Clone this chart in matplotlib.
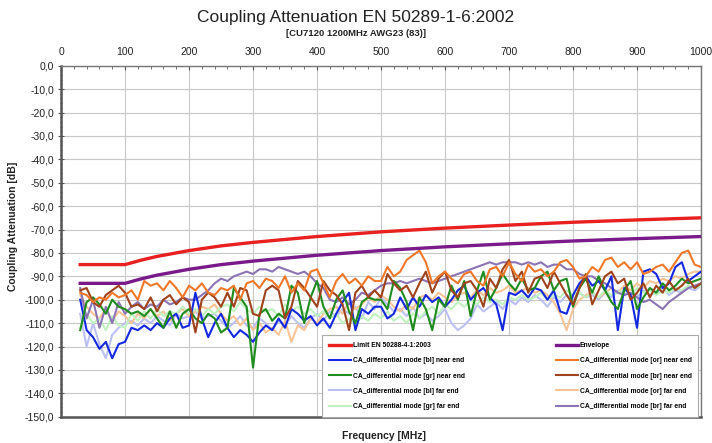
import numpy as np
import matplotlib
matplotlib.use("Agg")
import matplotlib.pyplot as plt
from matplotlib.ticker import FuncFormatter, MultipleLocator

plt.rcParams['font.family'] = ['Liberation Sans', 'DejaVu Sans']

title = "Coupling Attenuation EN 50289-1-6:2002"
subtitle = "[CU7120 1200MHz AWG23 (83)]"
xlabel = "Frequency [MHz]"
ylabel = "Coupling Attenuation [dB]"

# smooth reference curves
freq_ref = [30, 100, 125, 150, 200, 250, 300, 400, 500, 600, 700, 800, 900, 1000]
limit_vals = [-85, -85, -83.1, -81.5, -79, -77, -75.5, -73, -71, -69.4, -68.1, -66.9, -65.9, -65]
envelope_vals = [-93, -93, -91.1, -89.5, -87, -85, -83.5, -81, -79, -77.4, -76.1, -74.9, -73.9, -73]

# measured curves, 30 ... 1000 MHz, 10 MHz step
freq = np.arange(30, 1001, 10)

bl_near = [-100, -113, -116, -121, -118, -125, -119, -118, -112, -113,
           -111, -113, -110, -112, -108, -106, -112, -111, -97, -108,
           -116, -110, -106, -112, -116, -113, -115, -118, -114, -111,
           -113, -108, -112, -104, -106, -109, -107, -111, -108, -112,
           -106, -101, -97, -113, -104, -106, -103, -103, -108, -106,
           -99, -104, -99, -103, -98, -101, -99, -103, -100, -96,
           -94, -100, -97, -95, -99, -102, -113, -97, -98, -96,
           -99, -95, -96, -100, -96, -105, -106, -98, -93, -90,
           -94, -92, -96, -90, -113, -95, -98, -112, -88, -87,
           -89, -95, -93, -86, -84, -92, -90, -88]

or_near = [-97, -98, -101, -99, -100, -97, -99, -98, -96, -100,
           -92, -94, -93, -96, -92, -95, -99, -94, -96, -93,
           -97, -98, -95, -96, -94, -100, -93, -92, -95, -91,
           -92, -95, -90, -97, -93, -96, -88, -87, -93, -99,
           -92, -89, -93, -91, -94, -90, -92, -92, -86, -90,
           -88, -83, -81, -79, -84, -93, -90, -88, -91, -93,
           -89, -88, -92, -94, -87, -86, -90, -84, -89, -92,
           -85, -88, -87, -90, -88, -84, -83, -86, -91, -90,
           -86, -88, -83, -82, -86, -84, -87, -84, -89, -88,
           -86, -85, -88, -84, -80, -79, -85, -86]

gr_near = [-113, -101, -99, -102, -106, -100, -103, -104, -106, -105,
           -107, -104, -108, -112, -105, -112, -106, -104, -108, -110,
           -106, -108, -114, -112, -95, -99, -103, -129, -106, -104,
           -109, -106, -108, -94, -97, -110, -99, -92, -103, -108,
           -100, -96, -105, -110, -101, -99, -100, -100, -104, -92,
           -95, -101, -113, -99, -104, -113, -100, -103, -94, -100,
           -92, -107, -96, -88, -100, -95, -89, -93, -96, -91,
           -96, -95, -90, -88, -96, -92, -91, -103, -95, -91,
           -97, -90, -96, -101, -104, -96, -92, -104, -99, -95,
           -97, -93, -96, -94, -91, -93, -92, -91]

br_near = [-96, -95, -101, -103, -98, -96, -94, -97, -103, -102,
           -104, -99, -105, -100, -98, -102, -99, -101, -114, -100,
           -97, -99, -103, -97, -103, -95, -96, -106, -107, -96,
           -94, -96, -108, -103, -92, -95, -99, -103, -92, -96,
           -98, -102, -113, -97, -94, -99, -96, -99, -89, -93,
           -96, -94, -99, -93, -88, -97, -91, -88, -96, -99,
           -93, -92, -96, -103, -91, -95, -87, -83, -92, -88,
           -97, -91, -90, -95, -88, -93, -98, -102, -95, -89,
           -102, -96, -90, -88, -93, -91, -100, -97, -93, -99,
           -94, -97, -92, -96, -94, -91, -95, -93]

bl_far = [-106, -120, -110, -119, -125, -115, -112, -110, -109, -111,
          -108, -110, -107, -109, -111, -106, -108, -107, -105, -108,
          -107, -106, -109, -112, -110, -107, -111, -112, -108, -110,
          -113, -109, -111, -107, -110, -112, -108, -106, -109, -105,
          -107, -104, -106, -103, -108, -101, -104, -99, -102, -105,
          -104, -107, -103, -108, -106, -109, -107, -104, -110, -113,
          -111, -108, -102, -105, -103, -101, -104, -100, -102, -99,
          -101, -98, -100, -103, -99, -101, -98, -100, -97, -99,
          -98, -100, -97, -99, -96, -98, -97, -99, -96, -98,
          -97, -95, -98, -96, -97, -95, -96, -94]

or_far = [-98, -103, -106, -108, -104, -109, -105, -107, -110, -106,
          -108, -104, -107, -105, -109, -106, -104, -107, -105, -103,
          -104, -102, -106, -109, -107, -111, -108, -113, -110, -114,
          -112, -115, -109, -118, -111, -113, -108, -110, -106, -104,
          -103, -106, -101, -104, -102, -99, -101, -98, -100, -103,
          -105, -102, -104, -99, -98, -100, -97, -99, -101, -98,
          -97, -99, -96, -98, -95, -97, -96, -94, -97, -96,
          -95, -97, -96, -98, -101, -106, -113, -104, -100, -98,
          -97, -99, -97, -95, -97, -94, -96, -93, -95, -92,
          -93, -91, -92, -90, -91, -89, -88, -88]

gr_far = [-112, -106, -110, -108, -113, -107, -111, -112, -106, -109,
          -105, -108, -104, -107, -105, -106, -103, -106, -104, -107,
          -104, -106, -103, -102, -105, -101, -104, -106, -103, -105,
          -104, -107, -102, -105, -103, -106, -104, -107, -105, -108,
          -106, -110, -108, -111, -107, -109, -106, -108, -105, -109,
          -107, -110, -106, -108, -105, -103, -106, -102, -104, -101,
          -103, -100, -102, -99, -101, -100, -102, -99, -100, -98,
          -100, -99, -97, -100, -98, -99, -96, -98, -97, -99,
          -97, -99, -96, -98, -97, -96, -98, -95, -97, -96,
          -98, -96, -97, -95, -96, -94, -95, -94]

br_far = [-95, -108, -100, -112, -103, -110, -101, -106, -103, -101,
          -104, -102, -103, -100, -102, -101, -99, -100, -100, -98,
          -96, -93, -91, -92, -90, -89, -88, -89, -87, -87,
          -88, -86, -87, -88, -89, -88, -90, -93, -95, -100,
          -101, -99, -102, -100, -97, -98, -96, -94, -93, -93,
          -92, -93, -92, -91, -92, -93, -92, -91, -90, -89,
          -88, -87, -86, -85, -84, -85, -84, -84, -84, -85,
          -84, -85, -84, -86, -85, -85, -87, -87, -89, -90,
          -90, -92, -93, -95, -97, -98, -97, -99, -101, -100,
          -102, -104, -101, -99, -97, -95, -94, -93]

series = [
    ("CA_differential mode [bl] near end", bl_near, "#1428e0"),
    ("CA_differential mode [or] near end", or_near, "#f07828"),
    ("CA_differential mode [gr] near end", gr_near, "#1e8c1e"),
    ("CA_differential mode [br] near end", br_near, "#a0421c"),
    ("CA_differential mode [bl] far end", bl_far, "#bcc0f4"),
    ("CA_differential mode [or] far end", or_far, "#f8c496"),
    ("CA_differential mode [gr] far end", gr_far, "#c0f2c0"),
    ("CA_differential mode [br] far end", br_far, "#8c74b4"),
]

fig = plt.figure(figsize=(7.12, 4.43), dpi=100)
ax = fig.add_axes([0.0857, 0.0593, 0.8989, 0.7924])

handles = {}
draw_order = [4, 5, 6, 7, 0, 2, 3, 1]
for i in draw_order:
    name, vals, col = series[i]
    h, = ax.plot(freq, vals, color=col, lw=1.5, label=name, zorder=3 + (i < 4),
                 solid_joinstyle='round')
    handles[name] = h
hl, = ax.plot(freq_ref, limit_vals, color="#e82020", lw=2.4, label="Limit EN 50288-4-1:2003", zorder=6)
he, = ax.plot(freq_ref, envelope_vals, color="#7a1a8a", lw=2.4, label="Envelope", zorder=6)

ax.set_xlim(0, 1000)
ax.set_ylim(-150, 0)
ax.xaxis.set_major_locator(MultipleLocator(100))
ax.xaxis.set_minor_locator(MultipleLocator(20))
ax.yaxis.set_major_locator(MultipleLocator(10))
ax.yaxis.set_minor_locator(MultipleLocator(2))
ax.xaxis.tick_top()
ax.yaxis.set_major_formatter(FuncFormatter(lambda v, p: f"{v:.1f}".replace(".", ",")))
ax.tick_params(axis='x', which='major', labelsize=7.5, length=3, direction='in', colors='#555555', labelcolor='#222222', pad=6)
ax.tick_params(axis='x', which='minor', length=2, direction='in', colors='#555555')
ax.tick_params(axis='y', which='major', labelsize=7.5, length=4, direction='inout', colors='#555555', labelcolor='#222222', pad=3)
ax.tick_params(axis='y', which='minor', length=2, direction='inout', colors='#555555')
ax.grid(True, which='major', color='#c8c8c8', lw=0.8, zorder=0)
ax.set_axisbelow(True)
for s in ['top', 'right']:
    ax.spines[s].set_color('#777777')
    ax.spines[s].set_linewidth(1.0)
for s in ['left', 'bottom']:
    ax.spines[s].set_color('#555555')
    ax.spines[s].set_linewidth(1.8)

fig.text(0.5, 0.960, title, ha='center', va='center', fontsize=12.5, color='#222222')
fig.text(0.5, 0.925, subtitle, ha='center', va='center', fontsize=6.8, fontweight='bold', color='#222222')
fig.text(0.54, 0.016, xlabel, ha='center', va='center', fontsize=7.5, fontweight='bold', color='#222222')
fig.text(0.018, 0.49, ylabel, ha='center', va='center', rotation=90, fontsize=7.5, fontweight='bold', color='#222222')

order = ["Limit EN 50288-4-1:2003",
         "CA_differential mode [bl] near end",
         "CA_differential mode [gr] near end",
         "CA_differential mode [bl] far end",
         "CA_differential mode [gr] far end",
         "Envelope",
         "CA_differential mode [or] near end",
         "CA_differential mode [br] near end",
         "CA_differential mode [or] far end",
         "CA_differential mode [br] far end"]
handles["Limit EN 50288-4-1:2003"] = hl
handles["Envelope"] = he
leg = ax.legend([handles[n] for n in order], order, ncol=2, loc='lower left',
                bbox_to_anchor=(0.408, 0.0, 0.588, 0.238), mode='expand',
                prop={'weight': 'bold', 'size': 4.9},
                handlelength=3.2, handletextpad=0.3, labelspacing=1.2,
                borderpad=1.0, borderaxespad=0.0, fancybox=False, framealpha=1.0,
                edgecolor='#aaaaaa')
leg.get_frame().set_linewidth(0.8)
leg.set_zorder(10)

fig.savefig("out.png", dpi=100)
